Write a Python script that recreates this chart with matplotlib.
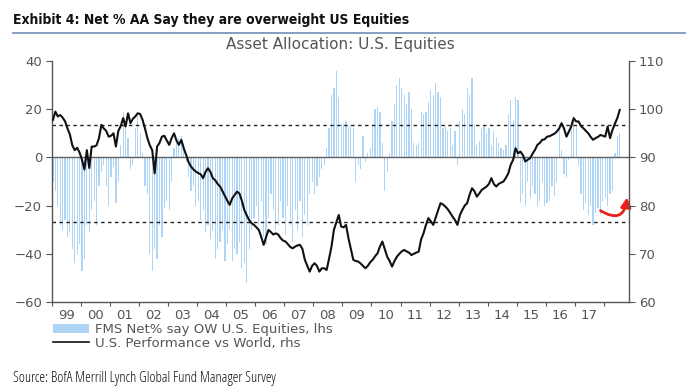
import matplotlib
matplotlib.use("Agg")
import matplotlib.pyplot as plt
import numpy as np
import pandas as pd
from matplotlib.patches import Patch
from matplotlib.lines import Line2D
from matplotlib import font_manager as fm

# ---------------- data ----------------
start_month = "1999-01"
# FMS net % say overweight US equities (lhs), monthly
fms_net = [
    -10, -14, -20, -28, -30, -26, -33, -31, -38, -44, -40, -36,   # 1999
    -47, -42, -28, -31, -22, -18, -28, -12, -6, -3, -12, -20,     # 2000
    -8, -4, -19, -10, 5, 19, 12, 8, -5, -3, 12, 17,               # 2001
    10, 2, -12, -15, -40, -47, -38, -42, -28, -33, -21, -18,      # 2002
    -22, -10, 4, 6, 8, 9, 5, -2, -8, -14, -12, -20,               # 2003
    -18, -26, -22, -31, -28, -34, -30, -42, -38, -35, -30, -43,   # 2004
    -36, -30, -43, -38, -40, -35, -46, -44, -52, -38, -30, -25,   # 2005
    -20, -28, -18, -33, -36, -25, -15, -22, -30, -28, -18, -25,   # 2006
    -32, -20, -28, -35, -22, -30, -18, -33, -24, -28, -15, -10,   # 2007
    -15, -12, -8, -5, -3, 4, 12, 26, 29, 36, 25, 14,              # 2008
    14, 15, 13, 14, 12, -10, -3, -5, 9, -2, 2, 4,                 # 2009
    14, 20, 21, 19, 6, -14, -6, 2, 15, 22, 30, 33,                # 2010
    29, 26, 22, 27, 20, 6, 5, 6, 19, 18, 19, 23,                  # 2011
    28, 26, 31, 27, 25, 12, 13, 11, 12, 5, 11, -3,                # 2012
    15, 20, 18, 29, 26, 33, 14, 5, 7, 12, 13, 10,                 # 2013
    12, 5, 11, 8, 6, 4, 3, 5, 18, 24, 15, 25,                     # 2014
    24, -19, -15, -20, -10, -17, -12, -15, -20, -18, -10, -20,    # 2015
    -19, -18, -12, -16, -10, 12, 3, -7, -8, -1, 15, 17,           # 2016
    14, -3, -15, -22, -19, -24, -20, -28, -23, -21, -24, -18,     # 2017
    -17, -20, -15, -14, 2, 9, 10,                                 # 2018
]
# US performance vs World (rhs), monthly
us_vs_world = [
    97.8, 99.5, 98.5, 98.8, 98.25, 97.5, 96, 94.75, 92.5, 91.5, 92, 91,        # 1999
    89.5, 87.5, 91.5, 87.8, 92.25, 92.25, 92.5, 94, 96.75, 96, 95.5, 94.3,     # 2000
    94.5, 95, 92.25, 95.5, 96.5, 98.15, 96.4, 99.15, 97.1, 98, 98.5, 99.15,    # 2001
    99, 97.8, 96, 94, 92.5, 91.5, 86.7, 92.25, 93, 94.3, 94.5, 93.5,           # 2002
    92.6, 94, 95, 93.5, 92.6, 93.65, 91.9, 90.5, 89, 88.1, 87.5, 87.05,        # 2003
    86.75, 86.5, 85.7, 87, 87.75, 87, 85.7, 85.25, 84.5, 83.95, 83, 82,        # 2004
    81, 80.15, 81.5, 82.2, 82.9, 82.5, 81, 79.1, 78, 77, 76.35, 76,            # 2005
    75.5, 74.95, 73.5, 71.85, 73.5, 74.95, 74.5, 74, 74.25, 74, 73.25, 72.75,  # 2006
    72.55, 72, 71.4, 71.15, 71.5, 71.75, 71.85, 71, 68.75, 67.5, 66.3, 67.5,   # 2007
    68.05, 67.5, 66.3, 67, 67, 66.65, 69, 71.5, 75, 76.5, 78.05, 75.65,        # 2008
    75.5, 76, 73.25, 71, 68.75, 68.5, 68.4, 68, 67.5, 67, 67.5, 68.25,         # 2009
    68.75, 69.5, 70.1, 71.5, 72.55, 71, 69.4, 68.5, 67.35, 68.5, 69.4, 70,     # 2010
    70.5, 70.8, 70.5, 70.25, 69.75, 70, 70.25, 70.45, 73, 74.25, 76, 77.4,     # 2011
    76.75, 76, 77.5, 79, 80.5, 80.25, 79.8, 79.25, 78.5, 77.7, 77, 76,         # 2012
    78, 79.1, 80, 80.5, 82.25, 83.6, 83, 81.85, 82.5, 83.25, 83.6, 83.95,      # 2013
    84.5, 85.7, 84.5, 83.95, 84.5, 84.75, 85, 85.75, 86.7, 88.5, 89.5, 91.9,   # 2014
    90.85, 91.2, 90.5, 89.15, 89.5, 89.85, 90.75, 91.55, 92.6, 93, 93.65, 93.75,  # 2015
    94.3, 94.4, 94.65, 94.9, 95.35, 96, 97.1, 96, 94.3, 95.35, 96.5, 98.15,    # 2016
    97.45, 97.45, 96.5, 96.05, 95.5, 95, 94.25, 93.65, 94, 94.25, 94.65, 94.5, # 2017
    94.3, 96.4, 94, 95.7, 97, 98.15, 99.85,                                     # 2018
]
year_labels = ["99", "00", "01", "02", "03", "04", "05", "06", "07", "08",
               "09", "10", "11", "12", "13", "14", "15", "16", "17"]
first_year = 1999
upper_band = 13.4
lower_band = -26.9

title = "Exhibit 4: Net % AA Say they are overweight US Equities"
chart_title = "Asset Allocation: U.S. Equities"
legend_labels = ["FMS Net% say OW U.S. Equities, lhs", "U.S. Performance vs World, rhs"]
source = "Source: BofA Merrill Lynch Global Fund Manager Survey"

# ---------------- fonts: prefer a narrow sans for the report texts ----------------
_fonts = fm.fontManager.ttflist
_names = {f.name for f in _fonts}
_cond_order = ["condensed", "semi-condensed", "extra-condensed"]


def _weight_num(w):
    try:
        return int(w)
    except (TypeError, ValueError):
        return {"bold": 700, "semibold": 600, "demibold": 600, "heavy": 800,
                "extra bold": 800, "black": 900}.get(str(w).lower(), 400)


def pick_narrow(bold):
    if "Liberation Sans Narrow" in _names:
        return dict(family="Liberation Sans Narrow")
    for st in _cond_order:
        for fam in ("Noto Sans", "Open Sans", "Roboto", "DejaVu Sans"):
            for f in _fonts:
                if f.name == fam and str(f.stretch) == st:
                    wn = _weight_num(f.weight)
                    if (bold and wn >= 600) or (not bold and wn < 600):
                        return dict(family=fam, fontstretch=st)
    for fam in ("Roboto", "Liberation Sans", "DejaVu Sans"):
        if fam in _names:
            return dict(family=fam)
    return dict(family="DejaVu Sans")


title_kw = pick_narrow(True)
source_kw = pick_narrow(False)

# ---------------- positions ----------------
months = pd.date_range(start_month, periods=len(fms_net), freq="MS")
xpos = months.year + (months.month - 1) / 12 + 1 / 24

grey = "#555555"

fig = plt.figure(figsize=(6.86, 3.91), dpi=100)
ax = fig.add_axes([0.0754, 0.2276, 0.8415, 0.6164])
ax2 = ax.twinx()

bar_color = "#afd5f6"
ax.bar(xpos, fms_net, width=1 / 12 * 0.5, color=bar_color, linewidth=0, zorder=1)
ax.axhline(0, color="#606060", lw=1.0, zorder=2)
ax.axhline(upper_band, color="#222222", lw=1.0, ls=(0, (2.5, 2.5)), zorder=2)
ax.axhline(lower_band, color="#222222", lw=1.0, ls=(0, (2.5, 2.5)), zorder=2)

ax2.plot(xpos, us_vs_world, color="#111111", lw=1.5, zorder=3)

x_end = first_year + 19.86
ax.set_xlim(first_year, x_end)
ax.set_ylim(-60, 40)
ax2.set_ylim(60, 110)

ax.set_yticks([-60, -40, -20, 0, 20, 40])
ax2.set_yticks([60, 70, 80, 90, 100, 110])

ax.set_xticks(np.arange(first_year, first_year + 20))
ax.set_xticklabels([])
ax.set_xticks([first_year + i + 0.5 for i in range(len(year_labels))], minor=True)
ax.set_xticklabels(year_labels, minor=True)
ax.tick_params(axis="x", which="minor", length=0, pad=5, labelsize=9.5, labelcolor=grey)
ax.tick_params(axis="x", which="major", length=3, direction="out", color="#555555")
ax.tick_params(axis="y", length=4, direction="out", labelsize=9.5, labelcolor=grey, color="#555555", pad=3)
ax2.tick_params(axis="y", length=4, direction="out", labelsize=9.5, labelcolor=grey, color="#555555", pad=3)

for a in (ax, ax2):
    a.spines["top"].set_visible(False)
    for s in ("left", "right", "bottom"):
        a.spines[s].set_color("#555555")
        a.spines[s].set_linewidth(1.0)
ax.spines["right"].set_visible(False)
ax2.spines["left"].set_visible(False)
ax2.spines["bottom"].set_visible(False)

# red curved arrow
ax.annotate("", xy=(2018.8, -15.5), xytext=(2017.8, -21.5),
            arrowprops=dict(arrowstyle="-|>,head_length=0.55,head_width=0.3", color="#e8201a",
                            lw=2.0, connectionstyle="arc3,rad=0.85"), zorder=5)

# titles
t_title = fig.text(13 / 686, 1 - 20 / 391, title, fontsize=13, fontweight="bold",
                   ha="left", va="center", color="#111111", **title_kw)
fig.add_artist(Line2D([13 / 686, 1.0], [1 - 33 / 391, 1 - 33 / 391], color="#6f8db8", lw=1.2))
fig.text(340 / 686, 1 - 45 / 391, chart_title, fontsize=11, ha="center", va="center", color=grey)

# legend
handles = [Patch(facecolor=bar_color, edgecolor="none"),
           Line2D([], [], color="#111111", lw=1.2)]
fig.legend(handles, legend_labels, loc="upper left", bbox_to_anchor=(53 / 686, 1 - 323 / 391),
           frameon=False, fontsize=9.5, handlelength=2.7, handleheight=0.6, labelspacing=0.05,
           borderpad=0, borderaxespad=0, handletextpad=0.5, labelcolor=grey)

t_source = fig.text(13 / 686, 1 - 378 / 391, source, fontsize=10,
                    ha="left", va="center", color="#111111", **source_kw)

# fit report texts to (about) the widths they occupy in the original layout
renderer = fig.canvas.get_renderer()
for txt, target_px, max_size in ((t_title, 398, 13.5), (t_source, 274, 10.5)):
    w = txt.get_window_extent(renderer).width
    if w > 0:
        txt.set_fontsize(min(max_size, txt.get_fontsize() * target_px / w))

fig.savefig("out.png", dpi=100)
